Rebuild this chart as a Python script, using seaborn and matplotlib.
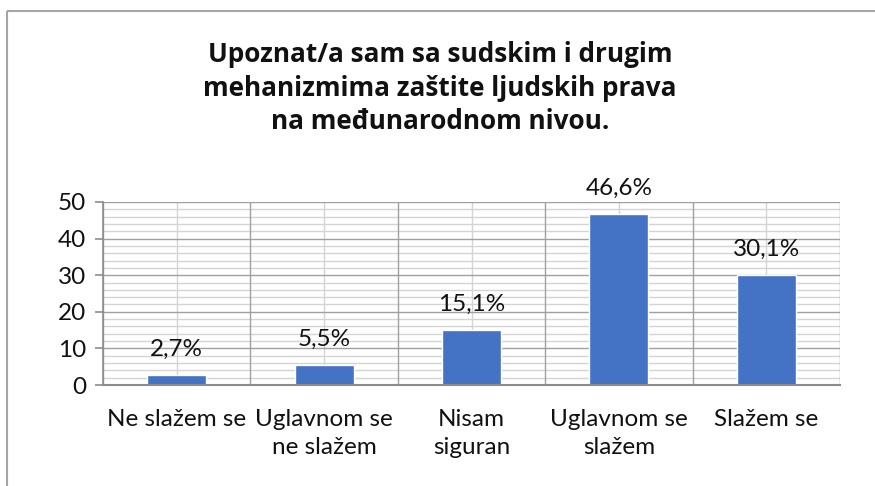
import matplotlib
matplotlib.use("Agg")
import matplotlib.pyplot as plt
import seaborn as sns
import pandas as pd
import numpy as np
from matplotlib.lines import Line2D
from matplotlib.ticker import MultipleLocator

categories = ["Ne slažem se", "Uglavnom se\nne slažem", "Nisam\nsiguran",
              "Uglavnom se\nslažem", "Slažem se"]
values = [2.7, 5.5, 15.1, 46.6, 30.1]
value_labels = ["2,7%", "5,5%", "15,1%", "46,6%", "30,1%"]
title = "Upoznat/a sam sa sudskim i drugim\nmehanizmima zaštite ljudskih prava\nna međunarodnom nivou."

sns.set_theme(style="white")
plt.rcParams['font.family'] = ['Lato', 'DejaVu Sans']

W, H = 875, 486
fig = plt.figure(figsize=(W / 100, H / 100), dpi=100)
fig.patch.set_linewidth(0)
ax = fig.add_axes([103 / W, 1 - 385 / H, (840 - 103) / W, (385 - 202) / H])

df = pd.DataFrame({"cat": categories, "val": values})
sns.barplot(data=df, x="cat", y="val", color="#4472C4", width=0.4,
            saturation=1, ax=ax, zorder=3)

n = len(categories)
ax.set_xlim(-0.5, n - 0.5)
ax.set_ylim(0, 50)
ax.yaxis.set_major_locator(MultipleLocator(10))
ax.yaxis.set_minor_locator(MultipleLocator(2))
ax.grid(False)
ax.grid(axis="y", which="minor", color="#d4d4d4", lw=1.0, zorder=0)
ax.grid(axis="y", which="major", color="#a0a0a0", lw=1.0, zorder=1)
for i in range(n):
    ax.axvline(i, color="#d4d4d4", lw=1.0, zorder=0)
for b in np.arange(-0.5, n, 1.0):
    ax.axvline(b, color="#a0a0a0", lw=1.0, zorder=1)

for s in ["top", "right"]:
    ax.spines[s].set_visible(False)
ax.spines["left"].set_color("#8c8c8c")
ax.spines["bottom"].set_color("#8c8c8c")
ax.spines["left"].set_linewidth(1.2)
ax.spines["bottom"].set_linewidth(1.5)
ax.spines["bottom"].set_zorder(4)

ax.set_xticks(range(n))
ax.set_xticklabels(categories, fontsize=17.5, color="#111111", linespacing=1.45)
ax.set_xticks(np.arange(-0.5, n, 1.0), minor=True)
ax.tick_params(axis="x", which="major", length=0, pad=17)
ax.tick_params(axis="x", which="minor", length=6, width=1.2, color="#8c8c8c", direction="out")
ax.tick_params(axis="y", which="major", length=6, width=1.2, color="#8c8c8c",
               labelsize=17.5, labelcolor="#111111", pad=6, left=True)
ax.tick_params(axis="y", which="minor", length=0)
ax.set_xlabel("")
ax.set_ylabel("")

ax.bar_label(ax.containers[0], labels=value_labels, padding=11, fontsize=17.5, color="#111111")

fig.text(440 / W, 1 - 88 / H, title, ha="center", va="center", fontsize=18.8,
         fontweight="bold", family=["Open Sans", "DejaVu Sans"], color="#111111",
         linespacing=1.3)

border = dict(transform=fig.transFigure, color="#a6a6a6", lw=1.5, solid_capstyle="butt")
fig.lines.append(Line2D([7 / W, 1.01], [1 - 11 / H, 1 - 11 / H], **border))
fig.lines.append(Line2D([7 / W, 7 / W], [-0.01, 1 - 11 / H], **border))

fig.savefig("out.png", dpi=100, facecolor="white", edgecolor="none")
